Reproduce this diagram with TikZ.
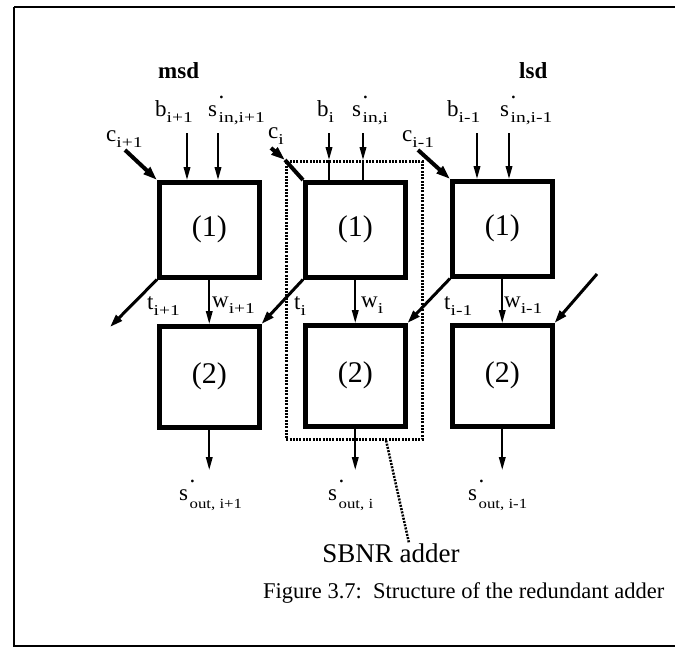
\documentclass[tikz,border=0pt]{standalone}
\usepackage{graphicx}
\usepackage{fontspec}
\setmainfont{Liberation Serif}
\usetikzlibrary{arrows.meta,calc}
\newcommand\sbx[1]{\raisebox{-0.3em}{\scalebox{1.3}[1]{\fontsize{15}{15}\selectfont #1}}}
\newcommand\sbo[1]{\raisebox{-0.35em}{\scalebox{1.2}[1]{\fontsize{14}{14}\selectfont #1}}}
\newcommand\sdt{s\kern1.5pt\rlap{\raisebox{0.75em}{.}}}
\begin{document}
\begin{tikzpicture}[x=1pt,y=-1pt,
  blk/.style={draw, line width=4.5pt, inner sep=0pt, anchor=north west, minimum width=100pt, font=\fontsize{30}{32}\selectfont},
  blkA/.style={blk, minimum height=95pt},
  blkB/.style={blk, minimum height=101pt},
  vin/.style={line width=2pt, -{Triangle[length=13pt,width=6.5pt]}},
  plain/.style={line width=2pt},
  diag/.style={line width=4pt, -{Triangle[length=14pt,width=9pt]}},
  tarr/.style={line width=3pt, -{Triangle[length=13pt,width=8pt]}},
  lab/.style={anchor=base west, inner sep=0pt, font=\fontsize{23}{25}\selectfont},
  frm/.style={line width=2.5pt, dash pattern=on 2pt off 1.3pt}]
\useasboundingbox (0,0) rectangle (675,648);
% outer border
\draw[line width=2pt] (14,7) -- (14,646) -- (675,646);
\draw[line width=2.5pt] (14,7) -- (675,7);
% SBNR frame
\node[frm, draw, anchor=north west, inner sep=0pt, minimum width=136pt, minimum height=278pt] (fr) at (285,160) {};
% blocks
\node[blkA] (L1) at (157,180) {(1)};
\node[blkB] (L2) at (157,324) {(2)};
\node[blkA] (M1) at (303,180) {(1)};
\node[blkB] (M2) at (303,323) {(2)};
\node[blkA] (R1) at (450,179) {(1)};
\node[blkB] (R2) at (450,323) {(2)};
% top labels
\node[lab] (lmsd) at (158,78) {\bfseries msd};
\node[lab] (llsd) at (519,78) {\bfseries lsd};
\node[lab] (lb1) at (155,116) {b\sbx{i+1}};
\node[lab] (ls1) at (208,116) {\sdt\sbx{in,i+1}};
\node[lab] (lc1) at (106,141) {c\sbx{i+1}};
\node[lab] (lb2) at (317,116) {b\sbx{i}};
\node[lab] (ls2) at (352,116) {\sdt\sbx{in,i}};
\node[lab] (lc2) at (268,138) {c\sbx{i}};
\node[lab] (lb3) at (447,116) {b\sbx{i-1}};
\node[lab] (ls3) at (500,116) {\sdt\sbx{in,i-1}};
\node[lab] (lc3) at (402,141) {c\sbx{i-1}};
% middle labels
\node[lab] (lt1) at (147,309) {t\sbx{i+1}};
\node[lab] (lw1) at (212,307) {w\sbx{i+1}};
\node[lab] (lt2) at (294,309) {t\sbx{i}};
\node[lab] (lw2) at (361,307) {w\sbx{i}};
\node[lab] (lt3) at (444,309) {t\sbx{i-1}};
\node[lab] (lw3) at (504,307) {w\sbx{i-1}};
% output labels
\node[lab] (lo1) at (179,500) {\sdt\sbo{out, i+1}};
\node[lab] (lo2) at (328,500) {\sdt\sbo{out, i}};
\node[lab] (lo3) at (468,500) {\sdt\sbo{out, i-1}};
% SBNR label and caption
\node[anchor=base, inner sep=0pt, font=\fontsize{27}{30}\selectfont] (sbnr) at (391,562) {SBNR adder};
\node[anchor=base west, inner sep=0pt, font=\fontsize{22.5}{26}\selectfont] (cap) at (263,598) {Figure 3.7:\ \ Structure of the redundant adder};
% coordinates
\coordinate (bt1) at (187,133); \coordinate (st1) at (218,133);
\coordinate (bt2) at (329,133); \coordinate (st2) at (363,133);
\coordinate (bt3) at (477,133); \coordinate (st3) at (509,133);
\coordinate (cs1) at (125,150); \coordinate (cs2) at (271,148); \coordinate (cs3) at (418,150);
\coordinate (tt1) at (110,327); \coordinate (tin) at (597,274);
\coordinate (oy) at (0,470);
\coordinate (ldrA) at ($(fr.south west)!0.73!(fr.south east)$);
\coordinate (ldrB) at (409,543);
% inputs
\draw[vin] (bt1) -- (bt1 |- L1.north);
\draw[vin] (st1) -- (st1 |- L1.north);
\draw[vin] (bt2) -- (bt2 |- fr.north);
\draw[plain] (bt2 |- fr.north) -- (bt2 |- M1.north);
\draw[vin] (st2) -- (st2 |- fr.north);
\draw[plain] (st2 |- fr.north) -- (st2 |- M1.north);
\draw[vin] (bt3) -- (bt3 |- R1.north);
\draw[vin] (st3) -- (st3 |- R1.north);
% carries
\draw[diag] (cs1) -- (L1.north west);
\draw[diag] (cs2) -- (fr.north west);
\draw[line width=4pt] (fr.north west) -- (M1.north west);
\draw[diag] (cs3) -- (R1.north west);
% transfers
\draw[tarr] (L1.south west) -- (tt1);
\draw[tarr] (M1.south west) -- (L2.north east);
\draw[tarr] (R1.south west) -- (M2.north east);
\draw[tarr] (tin) -- (R2.north east);
% w
\draw[vin] (L1.south) -- (L1.south |- L2.north);
\draw[vin] (M1.south) -- (M1.south |- M2.north);
\draw[vin] (R1.south) -- (R1.south |- R2.north);
% outputs
\draw[vin] (L2.south) -- (L2.south |- oy);
\draw[vin] (M2.south) -- (M2.south |- oy);
\draw[vin] (R2.south) -- (R2.south |- oy);
% leader
\draw[frm] (ldrA) -- (ldrB);
\end{tikzpicture}
\end{document}
